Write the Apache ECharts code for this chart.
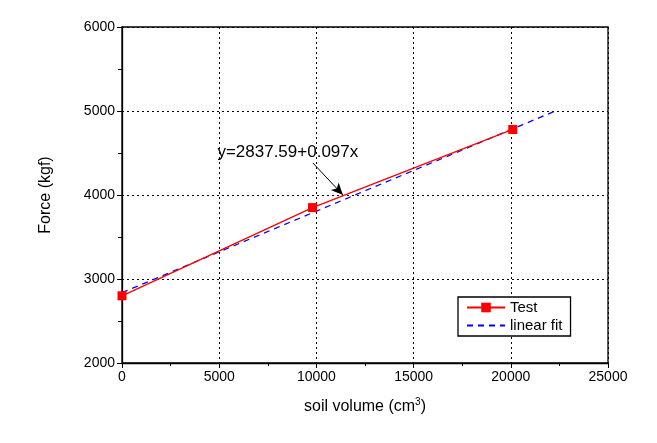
<!DOCTYPE html>
<html><head><meta charset="utf-8">
<script src="https://cdn.jsdelivr.net/npm/echarts@6/dist/echarts.min.js"></script>
<style>html,body{margin:0;padding:0;background:#fff}#c{width:657px;height:443px}</style>
</head><body><div id="c"></div>
<script>
const testX = [0, 9800, 20100];
const testY = [2800, 3850, 4780];
const fitX = [0, 22300];
const fitY = [2838, 5001];
const xTicks = [0, 5000, 10000, 15000, 20000, 25000];
const yTicks = [2000, 3000, 4000, 5000, 6000];
const equation = 'y=2837.59+0.097x';
const arrowFrom = [9820, 4381];
const arrowTo = [11366, 4000];
const eqPos = [8530, 4512];

const font = 'Liberation Sans, Arial, sans-serif';
const chart = echarts.init(document.getElementById('c'), null, {renderer: 'canvas'});
const axisCommon = {
  axisLine: {show: true, onZero: false, lineStyle: {color: '#000', width: 1.3}},
  axisTick: {show: true, inside: false, length: 5, lineStyle: {color: '#000'}},
  minorTick: {show: true, splitNumber: 2, length: 3, lineStyle: {color: '#000'}},
  axisLabel: {color: '#000', fontFamily: font, fontSize: 14, margin: 7, formatter: v => String(v)},
  splitLine: {show: true, lineStyle: {color: '#000', type: [2, 3], width: 1}},
  nameTextStyle: {color: '#000', fontFamily: font, fontSize: 16}
};
chart.setOption({
  animation: false,
  backgroundColor: '#fff',
  grid: {left: 122, right: 49, top: 27, bottom: 80, show: true, borderColor: '#000', borderWidth: 1.3},
  xAxis: Object.assign({}, axisCommon, {
    type: 'value', min: xTicks[0], max: xTicks[xTicks.length - 1], interval: 5000,
    name: 'soil volume (cm{s|3})', nameLocation: 'middle', nameGap: 34,
    nameTextStyle: {color: '#000', fontFamily: font, fontSize: 16, rich: {s: {fontSize: 10, verticalAlign: 'top', padding: [0, 0, 10, 0], fontFamily: font, color: '#000'}}}
  }),
  yAxis: Object.assign({}, axisCommon, {
    type: 'value', min: yTicks[0], max: yTicks[yTicks.length - 1], interval: 1000,
    name: 'Force (kgf)', nameLocation: 'middle', nameGap: 68, minorTick: {show: true, splitNumber: 2, length: 4, lineStyle: {color: '#000'}}
  }),
  legend: {
    left: 458, top: 297, orient: 'vertical', itemGap: 3, itemWidth: 38, itemHeight: 12,
    padding: [3, 8, 3, 8], borderColor: '#000', borderWidth: 1.3, backgroundColor: '#fff', borderRadius: 0,
    textStyle: {color: '#000', fontFamily: font, fontSize: 15},
    data: [{name: 'Test'}, {name: 'linear fit', itemStyle: {opacity: 0}}]
  },
  series: [
    {
      name: 'linear fit', type: 'line', data: fitX.map((x, i) => [x, fitY[i]]),
      symbol: 'none', lineStyle: {color: '#0000ff', type: [6, 5], width: 1.3}, itemStyle: {color: '#0000ff'},
      z: 3,
      markLine: {
        silent: true, symbol: ['none', 'arrow'], symbolSize: [8, 12],
        lineStyle: {color: '#000', type: 'solid', width: 1},
        label: {show: false},
        data: [[{coord: arrowFrom}, {coord: arrowTo}]]
      },
      markPoint: {
        symbol: 'rect', symbolSize: 0, silent: true,
        label: {show: true, formatter: equation, color: '#000', fontFamily: font, fontSize: 17, position: 'inside'},
        data: [{coord: eqPos}]
      }
    },
    {
      name: 'Test', type: 'line', data: testX.map((x, i) => [x, testY[i]]),
      symbol: 'rect', symbolSize: 9, showSymbol: true,
      lineStyle: {color: '#ff0000', width: 1.3}, itemStyle: {color: '#ff0000'}, z: 4
    }
  ]
});
</script></body></html>
